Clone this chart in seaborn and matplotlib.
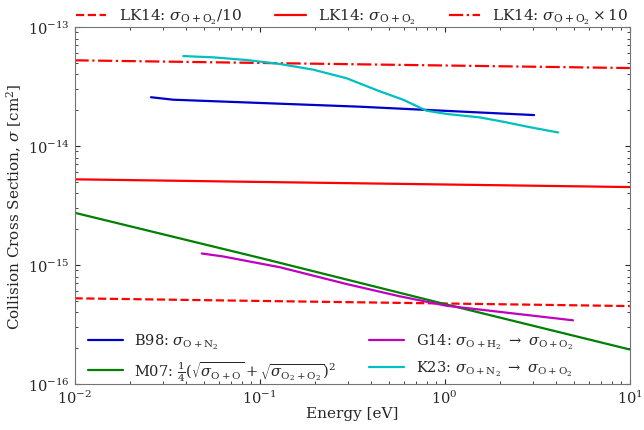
import numpy as np
import pandas as pd
import matplotlib
matplotlib.use("Agg")
import matplotlib.pyplot as plt
import seaborn as sns

# LK14 reference cross section (O + O2); the x10 and /10 curves are scaled from it
lk14_energy = [0.01, 0.1, 1.0, 10.0]
lk14_sigma = [5.25e-15, 4.99e-15, 4.75e-15, 4.52e-15]

# M07
m07_energy = [0.01, 0.1, 1.0, 10.0]
m07_sigma = [2.75e-15, 1.15e-15, 4.7e-16, 1.95e-16]

# B98
b98_energy = [0.0259, 0.0341, 0.348, 0.798, 3.04]
b98_sigma = [2.57e-14, 2.45e-14, 2.14e-14, 2.01e-14, 1.82e-14]

# G14
g14_energy = [0.0487, 0.0635, 0.129, 0.295, 0.571, 1.02, 4.93]
g14_sigma = [1.25e-15, 1.18e-15, 9.57e-16, 6.92e-16, 5.46e-16, 4.55e-16, 3.43e-16]

# K23
k23_energy = [0.0387, 0.0562, 0.0851, 0.1287, 0.1948, 0.295, 0.446, 0.596,
              0.798, 1.023, 1.547, 2.067, 2.88, 4.10]
k23_sigma = [5.70e-14, 5.56e-14, 5.28e-14, 4.89e-14, 4.38e-14, 3.71e-14,
             2.88e-14, 2.45e-14, 1.98e-14, 1.86e-14, 1.74e-14, 1.60e-14,
             1.44e-14, 1.30e-14]

sns.set_style("ticks")
plt.rcParams['font.family'] = ['DejaVu Serif']
plt.rcParams['mathtext.fontset'] = 'dejavuserif'
plt.rcParams['font.size'] = 11

fig = plt.figure(figsize=(6.44, 4.31), dpi=100)
ax = fig.add_axes([0.1157, 0.1067, 0.8623, 0.8283])

lk = pd.DataFrame({'E': lk14_energy, 'sigma': lk14_sigma})
lw = 1.6

sns.lineplot(x=lk['E'], y=lk['sigma'] / 10, ax=ax, color='r', lw=lw,
             linestyle='--', label=r'LK14: $\sigma_{\mathrm{O+O_2}}/10$')
sns.lineplot(x=lk['E'], y=lk['sigma'], ax=ax, color='r', lw=lw,
             label=r'LK14: $\sigma_{\mathrm{O+O_2}}$')
sns.lineplot(x=lk['E'], y=lk['sigma'] * 10, ax=ax, color='r', lw=lw,
             linestyle='-.', label=r'LK14: $\sigma_{\mathrm{O+O_2}}\times10$')
sns.lineplot(x=b98_energy, y=b98_sigma, ax=ax, color='mediumblue', lw=lw,
             label=r'B98: $\sigma_{\mathrm{O+N_2}}$')
sns.lineplot(x=m07_energy, y=m07_sigma, ax=ax, color='g', lw=lw,
             label=r'M07: $\frac{1}{4}(\sqrt{\sigma_{\mathrm{O+O}}}+\sqrt{\sigma_{\mathrm{O_2+O_2}}})^2$')
sns.lineplot(x=g14_energy, y=g14_sigma, ax=ax, color='m', lw=lw,
             label=r'G14: $\sigma_{\mathrm{O+H_2}}\ \rightarrow\ \sigma_{\mathrm{O+O_2}}$')
sns.lineplot(x=k23_energy, y=k23_sigma, ax=ax, color='c', lw=lw,
             label=r'K23: $\sigma_{\mathrm{O+N_2}}\ \rightarrow\ \sigma_{\mathrm{O+O_2}}$')

ax.set_xscale('log')
ax.set_yscale('log')
ax.set_xlim(1e-2, 1e1)
ax.set_ylim(1e-16, 1e-13)
ax.set_xlabel('Energy [eV]', fontsize=11, labelpad=0)
ax.set_ylabel(r'Collision Cross Section, $\sigma$ [cm$^2$]', fontsize=11, labelpad=3)
ax.tick_params(which='both', direction='in', top=True, right=True, labelsize=10.5)
for s in ax.spines.values():
    s.set_color('0.45')

handles, labels = ax.get_legend_handles_labels()
top = ax.legend(handles[:3], labels[:3], loc='lower center', ncol=3,
                bbox_to_anchor=(0.5, 0.985), frameon=False, fontsize=11,
                handlelength=2.0, columnspacing=2.2, borderaxespad=0)
ax.add_artist(top)
ax.legend(handles[3:], labels[3:], loc='lower left', ncol=2, frameon=False,
          fontsize=10.5, handlelength=2.4, columnspacing=2.3,
          bbox_to_anchor=(0.0, -0.033))

plt.savefig('out.png', dpi=100)
